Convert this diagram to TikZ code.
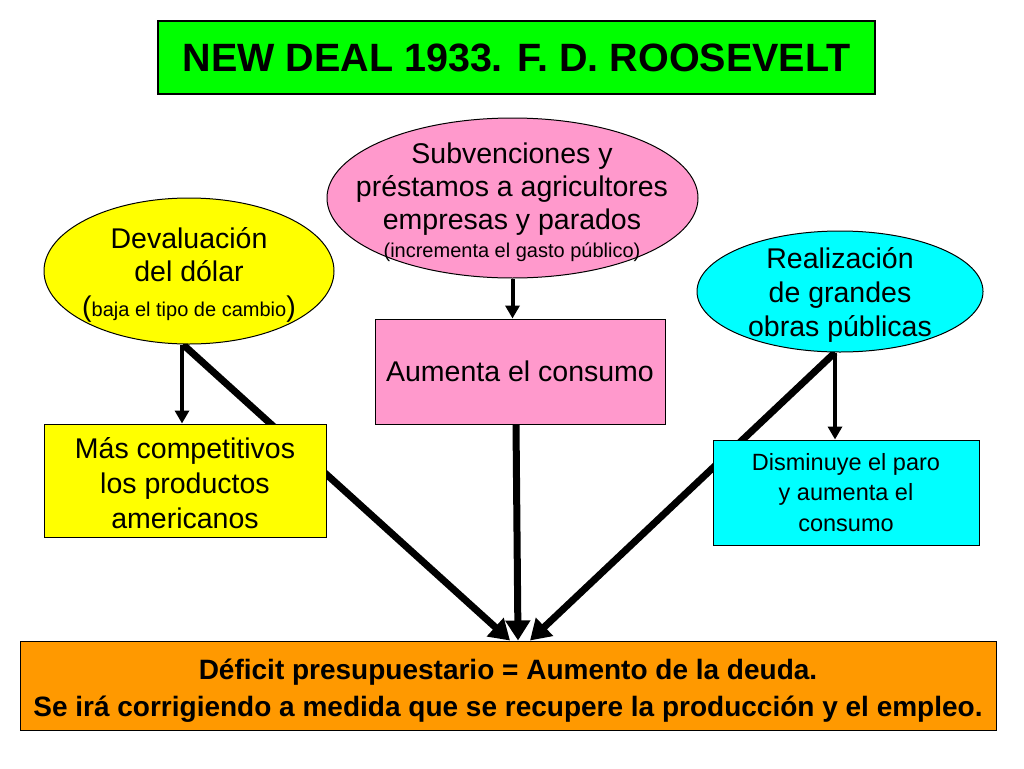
\documentclass[tikz,border=0pt]{standalone}
\usepackage{fontspec}
\setmainfont{Liberation Sans}
\usetikzlibrary{shapes.geometric,arrows.meta,backgrounds}
\definecolor{verde}{RGB}{0,255,0}
\definecolor{rosa}{RGB}{255,153,204}
\definecolor{amarillo}{RGB}{255,255,0}
\definecolor{celeste}{RGB}{0,255,255}
\definecolor{naranja}{RGB}{255,153,0}
\newcommand{\tam}[2]{\fontsize{#1}{#2}\selectfont}
\begin{document}
\begin{tikzpicture}[x=1pt,y=-1pt]
\tikzstyle{every node}+=[inner sep=0pt, align=center]
\tikzstyle{caja}=[draw=black, line width=1pt, rectangle]
\tikzstyle{elipse}=[draw=black, line width=1pt, ellipse]
\tikzstyle{grande}=[font=\tam{28.5}{33}]
\tikzstyle{flecha}=[line width=4pt, -{Triangle[length=13pt,width=14pt]}]
\tikzstyle{gruesa}=[line width=7pt, -{Triangle[length=20pt,width=24pt]}]
\useasboundingbox (0,0) rectangle (1024,768);
% title
\node [caja, fill=verde, line width=1.5pt, minimum width=717, minimum height=73] (titulo) at (516.5,57.5) {\tam{39.5}{44}\bfseries NEW DEAL 1933. F. D. ROOSEVELT};
% ellipses
\node [elipse, fill=rosa, minimum width=371, minimum height=160] (subv) at (512.5,198) {};
\node [grande] (subvtxt) at (512,202.5) {Subvenciones y\\ préstamos a agricultores\\ empresas y parados\\[-5pt] {\tam{20}{24}(incrementa el gasto público)}};
\node [elipse, fill=amarillo, minimum width=290, minimum height=146] (devalua) at (189,271) {};
\node [grande] (devaluatxt) at (189,275) {Devaluación\\ del dólar\\[2pt] ({\tam{20}{24}baja el tipo de cambio})};
\node [elipse, fill=celeste, minimum width=286, minimum height=121] (obras) at (840,291.5) {};
\node [grande, font=\tam{28.5}{34}] (obrastxt) at (840,295) {Realización\\ de grandes\\ obras públicas};
% boxes
\node [caja, grande, fill=rosa, minimum width=290, minimum height=105] (aumenta) at (520,371.5) {Aumenta el consumo};
\node [caja, grande, font=\tam{28.5}{35}, fill=amarillo, minimum width=282, minimum height=113] (competit) at (185,480.5) {\\[-8pt]Más competitivos\\ los productos\\ americanos};
\node [caja, font=\tam{23.5}{30.5}, fill=celeste, minimum width=266, minimum height=105] (disminuye) at (846,492.5) {Disminuye el paro\\ y aumenta el\\ consumo};
\node [caja, font=\tam{28}{37}\bfseries, fill=naranja, minimum width=976, minimum height=89] (deficit) at (508,685.5) {\\[-6pt]Déficit presupuestario = Aumento de la deuda.\\ Se irá corrigiendo a medida que se recupere la producción y el empleo.};
% arrows
\begin{pgfonlayer}{background}
\fill [white] (0,0) rectangle (1024,768);
\draw [flecha] ([xshift=-7]devalua.south) -- ([xshift=-3]competit.north);
\draw [flecha] (subv.south) -- (subv.south |- aumenta.north);
\draw [flecha] ([xshift=-5]obras.south) -- ([xshift=-5]obras.south |- disminuye.north);
\draw [gruesa] ([xshift=-6]devalua.south) -- ([xshift=2]deficit.north);
\draw [gruesa] ([xshift=-4]aumenta.south) -- ([xshift=10]deficit.north);
\draw [gruesa] ([xshift=-5]obras.south) -- ([xshift=22]deficit.north);
\end{pgfonlayer}
\end{tikzpicture}
\end{document}
